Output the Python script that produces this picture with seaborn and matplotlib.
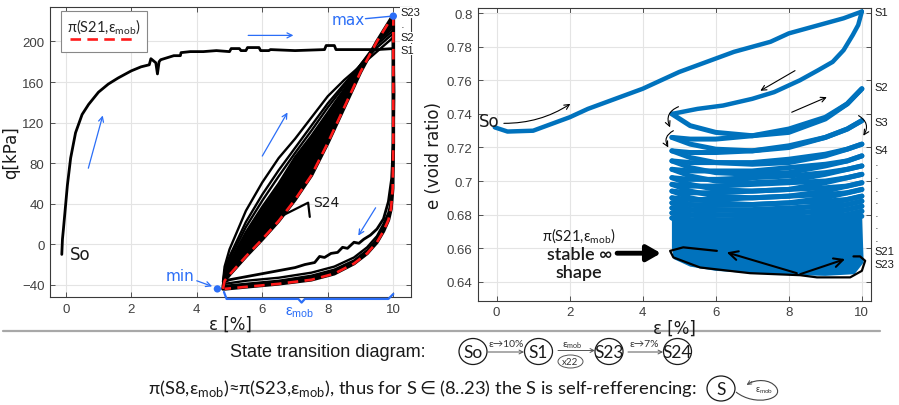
import matplotlib
matplotlib.use("Agg")
import matplotlib.pyplot as plt
import seaborn as sns
from matplotlib.patches import Ellipse, PathPatch, Rectangle
from matplotlib.path import Path

# ---------------- data: left panel (deviatoric stress q vs strain) ----------------
eps_init = [-0.12, -0.1, -0.07, 0.0, 0.05, 0.15, 0.3, 0.5, 0.7, 1.0, 1.3, 1.6, 2.0, 2.3, 2.55,
            2.6, 2.75, 2.8, 2.85, 2.9, 3.1, 3.3, 3.5, 3.52, 3.8, 4.2, 4.6, 5.0, 5.05, 5.3,
            5.35, 5.5, 5.55, 5.9, 5.95, 6.2, 6.25, 7.0, 7.9, 7.95, 8.2, 8.25, 9.5, 10.0]
q_init = [-10, 5, 15, 40, 58, 85, 110, 128, 138, 150, 158, 164, 171, 175, 177,
          183, 179, 168, 180, 182, 184, 186, 186, 189, 190, 190, 191, 190, 193, 193,
          191, 191, 194, 194, 191, 191, 192, 191, 192, 196, 196, 192, 192, 193]

eps_unl1 = [10.0, 10.02, 10.0, 9.95, 9.85, 9.7, 9.5, 9.3, 9.1, 8.95, 8.8, 8.6, 8.45, 8.3,
            8.1, 7.9, 7.75, 7.6, 7.3, 7.0, 6.5, 6.0, 5.5, 5.0, 4.85]
q_unl1 = [193, 150, 100, 65, 42, 25, 15, 9, 5, 1, 2, -4, -3, -8,
          -9, -13, -12, -18, -20, -23, -26, -29, -32, -35, -37]

eps_load = [4.8, 4.85, 5.0, 5.5, 6.0, 6.5, 7.0, 7.5, 8.0, 8.5, 9.0, 9.5, 10.0]
q_load2 = [-37, -22, -5, 33, 61, 85, 104, 125, 146, 162, 176, 190, 204]
q_load3 = [-40, -26, -12, 22, 49, 73, 95, 117, 139, 158, 177, 194, 208]
q_load4 = [-41, -28, -15, 17, 43, 67, 90, 112, 135, 156, 177, 197, 211]
q_load5 = [-42, -30, -18, 12, 37, 60, 86, 107, 130, 153, 177, 199, 214]
q_load_final = [-44, -36, -30, -12, 5, 23, 44, 68, 100, 135, 170, 200, 226]

eps_unload = [10.0, 10.0, 9.98, 9.93, 9.85, 9.7, 9.5, 9.2, 8.8, 8.2, 7.5, 6.5, 5.5, 4.85]
q_unl2 = [204, 100, 60, 42, 31, 20, 8, -3, -13, -22, -28, -33, -36, -39]
q_unl3 = [208, 100, 58, 39, 28, 17, 5, -6, -16, -25, -31, -36, -39, -41]
q_unl_final = [226, 100, 55, 35, 24, 13, 2, -9, -19, -29, -35, -39, -42, -44]

ext_eps = [4.63, 10.0]   # min / max points
ext_q = [-44, 225]

# ---------------- data: right panel (void ratio vs strain) ----------------
eps_e_init = [-0.05, 0.3, 1.0, 1.5, 2.0, 2.5, 3.0, 3.5, 4.0, 4.5, 5.0, 5.5, 6.0, 6.5, 7.0,
              7.5, 8.0, 8.5, 9.0, 9.5, 10.0]
e_init = [0.732, 0.7295, 0.730, 0.734, 0.738, 0.743, 0.747, 0.751, 0.755, 0.760, 0.765,
          0.769, 0.773, 0.777, 0.780, 0.783, 0.788, 0.791, 0.794, 0.797, 0.801]
eps_e_unl1 = [10.0, 9.9, 9.75, 9.5, 9.2, 8.8, 8.3, 7.6, 7.0, 6.2, 5.5, 4.8]
e_unl1 = [0.801, 0.793, 0.787, 0.778, 0.771, 0.766, 0.760, 0.753, 0.749, 0.745, 0.743, 0.740]

XL = [4.8, 5.3, 6.0, 7.0, 8.0, 9.0, 9.6, 10.0]
XU = [10.0, 9.6, 9.0, 8.0, 7.0, 6.0, 5.3, 4.8]
e_loading = [
    [0.740, 0.733, 0.729, 0.727, 0.729, 0.737, 0.746, 0.755],
    [0.726, 0.722, 0.719, 0.718, 0.720, 0.726, 0.731, 0.736],
    [0.718, 0.714, 0.711, 0.710, 0.711, 0.715, 0.719, 0.722],
    [0.712, 0.708, 0.705, 0.704, 0.705, 0.709, 0.712, 0.715],
    [0.707, 0.703, 0.700, 0.699, 0.700, 0.704, 0.707, 0.709],
    [0.702, 0.698, 0.695, 0.694, 0.695, 0.699, 0.702, 0.704],
    [0.698, 0.694, 0.691, 0.690, 0.691, 0.694, 0.697, 0.699],
    [0.694, 0.690, 0.687, 0.686, 0.687, 0.690, 0.693, 0.695],
    [0.690, 0.686, 0.683, 0.682, 0.683, 0.686, 0.689, 0.691],
    [0.687, 0.683, 0.680, 0.679, 0.680, 0.683, 0.686, 0.688],
    [0.684, 0.680, 0.677, 0.676, 0.677, 0.680, 0.683, 0.685],
    [0.681, 0.677, 0.674, 0.673, 0.674, 0.677, 0.680, 0.682],
    [0.678, 0.674, 0.671, 0.670, 0.671, 0.674, 0.677, 0.679],
]
e_unloading = [
    [0.755, 0.746, 0.738, 0.731, 0.727, 0.725, 0.725, 0.726],
    [0.736, 0.731, 0.726, 0.721, 0.718, 0.717, 0.717, 0.718],
    [0.722, 0.719, 0.716, 0.713, 0.711, 0.711, 0.711, 0.712],
    [0.715, 0.712, 0.710, 0.708, 0.706, 0.706, 0.706, 0.707],
    [0.709, 0.707, 0.705, 0.703, 0.702, 0.701, 0.701, 0.702],
    [0.704, 0.702, 0.700, 0.699, 0.698, 0.697, 0.697, 0.698],
    [0.699, 0.697, 0.696, 0.695, 0.694, 0.693, 0.693, 0.694],
    [0.695, 0.693, 0.692, 0.691, 0.690, 0.689, 0.689, 0.690],
    [0.691, 0.689, 0.688, 0.687, 0.686, 0.686, 0.686, 0.687],
    [0.688, 0.686, 0.685, 0.684, 0.683, 0.683, 0.683, 0.684],
    [0.685, 0.683, 0.682, 0.681, 0.680, 0.680, 0.680, 0.681],
    [0.682, 0.680, 0.679, 0.678, 0.677, 0.677, 0.677, 0.678],
]
band_bot_eps = [4.8, 4.85, 5.3, 6.0, 7.0, 8.0, 9.0, 9.8, 10.05]
band_bot_e = [0.660, 0.6535, 0.649, 0.6465, 0.645, 0.644, 0.6435, 0.6445, 0.6515]

inf_eps = [6.03, 5.11, 4.75, 4.84, 5.57, 6.94, 8.31, 8.77, 9.68, 10.0, 10.09, 9.95, 9.77]
inf_e = [0.6584, 0.6605, 0.6584, 0.6545, 0.6485, 0.6451, 0.6439, 0.6426, 0.6426, 0.6465,
         0.6525, 0.6551, 0.6551]

state_labels_L = ["S23", "·", "S2", "S1"]
state_q_L = [229, 214, 204, 192]
state_labels_R = ["S1", "S2", "S3", "S4", "·", "·", "·", "·", "·", "·", "·", "S21", "S23"]
state_e_R = [0.801, 0.7559, 0.735, 0.7187, 0.7095, 0.7018, 0.6942, 0.6869, 0.6793, 0.6718,
             0.6640, 0.6584, 0.6505]

xticks = [0, 2, 4, 6, 8, 10]
yticks_L = [-40, 0, 40, 80, 120, 160, 200]
yticks_R = [0.64, 0.66, 0.68, 0.70, 0.72, 0.74, 0.76, 0.78, 0.80]

# ---------------- styling ----------------
sns.set_theme(style="whitegrid")
plt.rcParams["font.family"] = ["Liberation Sans", "DejaVu Sans"]
plt.rcParams["mathtext.fontset"] = "dejavusans"

BLUE = "#0072BD"
ABLUE = "#2b6ef7"
RED = "#ff1a1a"
TXT = "#404040"
MOB = "ε$_{\\mathregular{mob}}$"

fig = plt.figure(figsize=(8.99, 4.06), dpi=100)
fig.patch.set_facecolor("white")
axL = fig.add_axes([50 / 899, 108 / 406, 361 / 899, 290 / 406])
axR = fig.add_axes([478.3 / 899, 104.3 / 406, 392.7 / 899, 293 / 406])


def style(ax):
    ax.set_facecolor("white")
    ax.grid(True, color="#e4e4e4", lw=0.8)
    ax.set_axisbelow(True)
    for s in ax.spines.values():
        s.set_visible(True)
        s.set_color("#3a3a3a")
        s.set_linewidth(0.8)
    ax.tick_params(direction="in", length=3.5, width=0.6, color="#3a3a3a",
                   top=True, right=True, bottom=True, left=True,
                   labelsize=9.5, labelcolor=TXT, pad=4)


def line(ax, x, y, **kw):
    sns.lineplot(x=x, y=y, ax=ax, sort=False, estimator=None, legend=False, **kw)


# ======================= LEFT PANEL =======================
style(axL)
axL.fill(eps_load + eps_load[::-1], q_load5 + q_load_final[::-1], color="black", lw=0, zorder=2)
axL.fill(eps_unload + eps_unload[::-1], q_unl3 + q_unl_final[::-1], color="black", lw=0, zorder=2)
for qq in (q_load2, q_load3, q_load4, q_load5):
    line(axL, eps_load, qq, color="black", lw=1.7, zorder=3)
for qq in (q_unl2, q_unl3):
    line(axL, eps_unload, qq, color="black", lw=1.7, zorder=3)
line(axL, eps_load, q_load_final, color="black", lw=2.6, zorder=3)
line(axL, eps_unload, q_unl_final, color="black", lw=2.6, zorder=3)
line(axL, eps_init, q_init, color="black", lw=2.0, zorder=4)
line(axL, eps_unl1, q_unl1, color="black", lw=2.0, zorder=4)
axL.plot(eps_load, q_load_final, color=RED, lw=1.9, ls=(0, (4, 2.4)), zorder=5)
axL.plot(eps_unload, q_unl_final, color=RED, lw=1.9, ls=(0, (4, 2.4)), zorder=5)
sns.scatterplot(x=ext_eps, y=ext_q, ax=axL, color=ABLUE, s=28, zorder=6, edgecolor="none",
                clip_on=False, legend=False)

axL.set_xlim(-0.48, 10.54)
axL.set_ylim(-52, 234)
axL.set_xticks(xticks)
axL.set_yticks(yticks_L)
axL.set_xlabel("ε [%]", fontsize=12, color="#1a1a1a", labelpad=0, family="DejaVu Sans")
axL.set_ylabel("q[kPa]", fontsize=12, color="#1a1a1a", labelpad=1, family="DejaVu Sans")

# legend box (MATLAB style: label above sample line)
axL.add_patch(Rectangle((0.0305, 0.845), 0.238, 0.141, transform=axL.transAxes, fc="white",
                        ec="#888888", lw=0.8, zorder=8))
axL.text(0.1496, 0.934, "π(S21," + MOB + ")", transform=axL.transAxes, ha="center",
         va="center", fontsize=10.5, family=["Lato", "DejaVu Sans"], zorder=9)
axL.plot([0.0554, 0.241], [0.888, 0.888], transform=axL.transAxes, color=RED, lw=1.9,
         ls=(0, (4, 2.4)), zorder=9)

# annotations (left)
akw = dict(arrowstyle="->", color=ABLUE, lw=0.9, shrinkA=0, shrinkB=0, mutation_scale=9)
axL.annotate("", xy=(1.13, 127), xytext=(0.69, 75), arrowprops=akw)
axL.annotate("", xy=(6.95, 206), xytext=(5.57, 206), arrowprops=akw)
axL.annotate("", xy=(6.77, 130), xytext=(6.0, 87), arrowprops=akw)
axL.annotate("", xy=(8.93, 8.5), xytext=(9.46, 36), arrowprops=akw)
axL.annotate("", xy=(4.47, -41.5), xytext=(4.0, -36), arrowprops=akw)
axL.text(3.49, -30.5, "min", color=ABLUE, fontsize=11, ha="center", va="center",
         family="DejaVu Sans")
axL.text(8.63, 222, "max", color=ABLUE, fontsize=11, ha="center", va="center",
         family="DejaVu Sans")
axL.plot([9.15, 9.97], [222.5, 225], color=ABLUE, lw=1.0, zorder=6)
axL.text(0.13, -9.5, "So", fontsize=12, color="#1a1a1a", ha="left", va="center",
         family="DejaVu Sans")
axL.plot([6.66, 7.4, 7.45], [29, 41, 27], color="black", lw=1.6, zorder=6)
axL.text(7.55, 42, "S24", fontsize=10, color="#1a1a1a", ha="left", va="center",
         family="DejaVu Sans", zorder=7)
for lab, qv in zip(state_labels_L, state_q_L):
    axL.text(10.22, qv, lab, fontsize=8, color="#1a1a1a", ha="left", va="center",
             clip_on=False, zorder=7, bbox=dict(fc="white", ec="none", pad=0.3))
axL.plot([4.83, 4.91, 7.10, 7.2, 7.3, 9.85, 10.0], [-47, -53.9, -53.9, -57.5, -53.9, -53.9, -49],
         color=ABLUE, lw=1.6, clip_on=False, zorder=7)
axL.text(7.15, -66, MOB, color=ABLUE, fontsize=11, ha="center", va="center", clip_on=False)

# ======================= RIGHT PANEL =======================
style(axR)
band_x = band_bot_eps + XU
band_y = band_bot_e + e_unloading[-1]
axR.fill(band_x, band_y, color=BLUE, lw=0, zorder=2)
line(axR, eps_e_init, e_init, color=BLUE, lw=3.2, zorder=3)
line(axR, eps_e_unl1, e_unl1, color=BLUE, lw=3.2, zorder=3)
for row in e_loading:
    line(axR, XL, row, color=BLUE, lw=3.6, zorder=3)
for row in e_unloading:
    line(axR, XU, row, color=BLUE, lw=3.6, zorder=3)

axR.set_xlim(-0.5, 10.25)
axR.set_ylim(0.6287, 0.8033)
axR.set_xticks(xticks)
axR.set_yticks(yticks_R)
axR.set_yticklabels([f"{v:g}" for v in yticks_R])
axR.set_xlabel("ε [%]", fontsize=12, color="#1a1a1a", labelpad=0, family="DejaVu Sans")
axR.set_ylabel("e (void ratio)", fontsize=12, color="#1a1a1a", labelpad=3,
               family="DejaVu Sans")

axR.plot(inf_eps, inf_e, color="black", lw=1.6, zorder=5)
bkw = dict(arrowstyle="->", color="black", lw=1.5, shrinkA=0, shrinkB=0, mutation_scale=16)
axR.annotate("", xy=(6.3, 0.6575), xytext=(8.22, 0.6451), arrowprops=bkw)
axR.annotate("", xy=(9.54, 0.6535), xytext=(8.31, 0.6445), arrowprops=bkw)
axR.annotate("", xy=(4.5, 0.657), xytext=(3.3, 0.657),
             arrowprops=dict(arrowstyle="-|>,head_length=0.7,head_width=0.4", color="black",
                             lw=3.5, shrinkA=0, shrinkB=0))
tkw = dict(color="black", lw=0.8, shrinkA=0, shrinkB=0, mutation_scale=9)
axR.annotate("", xy=(2.02, 0.7460), xytext=(0.2, 0.7344),
             arrowprops=dict(arrowstyle="->", connectionstyle="arc3,rad=0.15", **tkw))
axR.annotate("", xy=(7.22, 0.7538), xytext=(8.17, 0.7658), arrowprops=dict(arrowstyle="->", **tkw))
axR.annotate("", xy=(9.04, 0.750), xytext=(8.08, 0.741), arrowprops=dict(arrowstyle="->", **tkw))
axR.annotate("", xy=(4.75, 0.732), xytext=(4.98, 0.7443),
             arrowprops=dict(arrowstyle="->", connectionstyle="arc3,rad=0.5", **tkw))
axR.annotate("", xy=(4.70, 0.720), xytext=(4.84, 0.730),
             arrowprops=dict(arrowstyle="->", connectionstyle="arc3,rad=0.5", **tkw))
axR.annotate("", xy=(10.04, 0.727), xytext=(9.91, 0.739),
             arrowprops=dict(arrowstyle="->", connectionstyle="arc3,rad=-0.5", **tkw))

axR.text(-0.48, 0.7358, "So", fontsize=12, color="#1a1a1a", ha="left", va="center",
         family="DejaVu Sans", zorder=6)
axR.text(2.24, 0.6678, "π(S21," + MOB + ")", fontsize=10.5, color="#1a1a1a",
         ha="center", va="center", family=["Lato", "DejaVu Sans"])
axR.text(2.28, 0.6565, "stable ∞", fontsize=13, color="#1a1a1a", ha="center", va="center",
         family=["Lato", "DejaVu Sans"], fontweight="semibold")
axR.text(2.24, 0.6456, "shape", fontsize=13, color="#1a1a1a", ha="center", va="center",
         family=["Lato", "DejaVu Sans"], fontweight="semibold")
for lab, ev in zip(state_labels_R, state_e_R):
    axR.text(1.01, ev, lab, fontsize=8, color="#1a1a1a", ha="left", va="center",
             transform=axR.get_yaxis_transform(), clip_on=False)

# ======================= BOTTOM DIAGRAM (pixel coordinates) =======================
axB = fig.add_axes([0, 0, 1, 1], zorder=-1)
axB.set_xlim(0, 899)
axB.set_ylim(406, 0)
axB.axis("off")
axB.plot([3, 880], [331.5, 331.5], color="#a8a8a8", lw=1.6)
axB.text(328, 352.5, "State transition diagram:", fontsize=13, ha="center", va="center",
         color="#1a1a1a", family="Liberation Sans")
CAL = ["Lato", "DejaVu Sans"]
for cx, lab in [(473, "So"), (538.5, "S1"), (609, "S23"), (677.5, "S24")]:
    axB.add_patch(Ellipse((cx, 352.5), 28, 26, fill=False, ec="#1a1a1a", lw=0.9))
    axB.text(cx, 353.5, lab, fontsize=12.5, ha="center", va="center", family=CAL,
             color="#1a1a1a")
gkw = dict(arrowstyle="->", color="#555555", lw=0.7, shrinkA=0, shrinkB=0, mutation_scale=7)
axB.annotate("", xy=(524, 353), xytext=(488, 353), arrowprops=gkw)
axB.annotate("", xy=(595, 351.5), xytext=(558, 351.5), arrowprops=gkw)
axB.annotate("", xy=(663, 353), xytext=(628, 353), arrowprops=gkw)
axB.text(506, 345, "ε→10%", fontsize=7.5, ha="center", va="center", family=CAL, color="#333333")
axB.text(572, 345.5, MOB, fontsize=7.5, ha="center", va="center", family=CAL, color="#333333")
axB.text(644, 345, "ε→7%", fontsize=7.5, ha="center", va="center", family=CAL, color="#333333")
axB.add_patch(Ellipse((570.5, 362.5), 25, 13, fill=False, ec="#555555", lw=0.7))
axB.text(570.5, 363, "x22", fontsize=7, ha="center", va="center", family=CAL, color="#333333")

axB.text(697, 389, "π(S8," + MOB + ")≈π(S23," + MOB + "), thus for S$\\in$(8..23) the S is "
         "self-refferencing:", fontsize=13.2, ha="right", va="center", family=CAL,
         color="#1a1a1a")
axB.add_patch(Ellipse((721, 389.5), 28, 25, fill=False, ec="#1a1a1a", lw=0.9))
axB.text(721, 390.5, "S", fontsize=12.5, ha="center", va="center", family=CAL, color="#1a1a1a")
loop = Path([(736, 393), (755, 408), (785, 400), (776, 388), (770, 380), (756, 380), (748, 385)],
            [Path.MOVETO, Path.CURVE4, Path.CURVE4, Path.CURVE4, Path.CURVE4, Path.CURVE4,
             Path.CURVE4])
axB.add_patch(PathPatch(loop, fill=False, ec="#444444", lw=0.8))
axB.annotate("", xy=(746.5, 386), xytext=(752, 382.5), arrowprops=gkw)
axB.text(764, 391, MOB, fontsize=6.5, ha="center", va="center", family=CAL, color="#333333")

fig.savefig("out.png", dpi=100, facecolor="white")
